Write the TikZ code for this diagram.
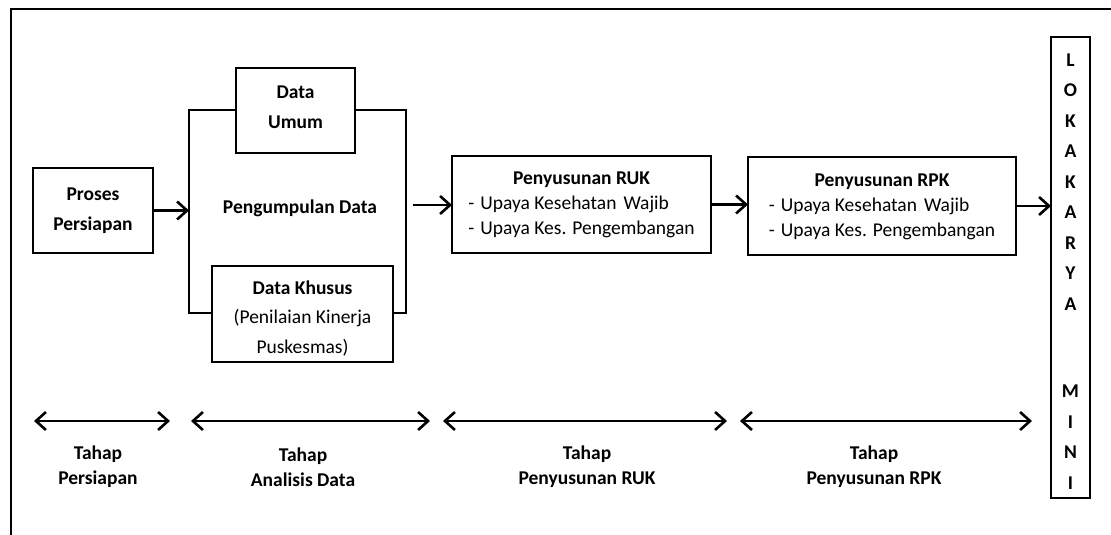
\documentclass[tikz,border=0pt]{standalone}
\usepackage{fontspec}
\setmainfont{Carlito}
\usetikzlibrary{arrows.meta}
\begin{document}
\begin{tikzpicture}[x=1pt,y=-1pt,
  every node/.style={inner sep=0pt, outer sep=0pt},
  box/.style={draw, line width=1.1pt, fill=white, anchor=north west, align=center},
  txt/.style={font=\fontsize{19.5}{30}\selectfont},
  btxt/.style={font=\bfseries\fontsize{19.5}{30}\selectfont},
  bracketline/.style={line width=2.6pt},
  flow/.style={line width=2.6pt, -{Straight Barb[length=10pt,width=18pt]}},
  span/.style={line width=2.6pt, {Straight Barb[length=10pt,width=18pt]}-{Straight Barb[length=10pt,width=18pt]}},
  lbl/.style={font=\bfseries\fontsize{19.5}{25}\selectfont, align=center},
]
\useasboundingbox[fill=white] (0,0) rectangle (1111,535);

% page frame
\draw[line width=1.8pt] (11,535) -- (11,9) -- (1111,9);

% data collection bracket
\coordinate (bTL) at (189,110);
\coordinate (bTR) at (406,110);
\coordinate (bBR) at (406,313);
\coordinate (bBL) at (189,313);
\draw[bracketline] (bTL) -- (bTR) -- (bBR) -- (bBL) -- cycle;

% boxes
\node[box, btxt, minimum width=120pt, minimum height=85pt] (prep) at (33,168) {Proses\\Persiapan};
\node[box, btxt, minimum width=119pt, minimum height=85pt] (umum) at (236,68) {Data\\Umum\rule[-6pt]{0pt}{1pt}};
\node[box, txt, minimum width=181pt, minimum height=96pt, font=\fontsize{19.5}{29.5}\selectfont] (khusus) at (212,266)
  {\rule{0pt}{22pt}\textbf{Data Khusus}\\(Penilaian Kinerja\\Puskesmas)};
\node[btxt] (kumpul) at (300,208) {Pengumpulan Data};

\node[box, minimum width=259pt, minimum height=97pt] (ruk) at (452,156)
  {\fontsize{19.5}{25}\selectfont\begin{tabular}{@{}l@{}}
   \multicolumn{1}{@{}c@{}}{\bfseries Penyusunan RUK}\\
   -\hspace{6pt}Upaya Kesehatan\hspace{7pt}Wajib\\
   -\hspace{6pt}Upaya Kes.\hspace{6pt}Pengembangan
   \end{tabular}};
\node[box, minimum width=268pt, minimum height=98pt] (rpk) at (748,157)
  {\fontsize{19.5}{25}\selectfont\begin{tabular}{@{}l@{}}
   \multicolumn{1}{@{}c@{}}{\bfseries Penyusunan RPK}\\
   -\hspace{6pt}Upaya Kesehatan\hspace{7pt}Wajib\\
   -\hspace{6pt}Upaya Kes.\hspace{6pt}Pengembangan
   \end{tabular}};

\node[box, minimum width=39pt, minimum height=461pt, font=\bfseries\fontsize{19.5}{30.5}\selectfont] (lok) at (1051,37)
  {\rule{0pt}{20pt}L\\O\\K\\A\\K\\A\\R\\Y\\A\\[57pt]M\\I\\N\\I};

% flow arrows
\coordinate (gout) at (413,205);
\draw[flow] (prep.east) -- (prep.east -| bTL);
\draw[flow] (gout) -- (gout -| ruk.west);
\draw[flow] (ruk.east) -- (ruk.east -| rpk.west);
\draw[flow] (rpk.east) -- (rpk.east -| lok.west);

% stage spans
\coordinate (s1a) at (34,421);  \coordinate (s1b) at (170,421);
\coordinate (s2a) at (191,421); \coordinate (s2b) at (430,421);
\coordinate (s3a) at (443,421); \coordinate (s3b) at (727,421);
\coordinate (s4a) at (740,421); \coordinate (s4b) at (1032,421);
\draw[span] (s1a) -- (s1b);
\draw[span] (s2a) -- (s2b);
\draw[span] (s3a) -- (s3b);
\draw[span] (s4a) -- (s4b);

% stage labels
\node[lbl] (t1) at (98,467) {Tahap\\Persiapan};
\node[lbl] (t2) at (303,467) {Tahap\\Analisis Data};
\node[lbl] (t3) at (587,467) {Tahap\\Penyusunan RUK};
\node[lbl] (t4) at (874,467) {Tahap\\Penyusunan RPK};
\end{tikzpicture}
\end{document}
